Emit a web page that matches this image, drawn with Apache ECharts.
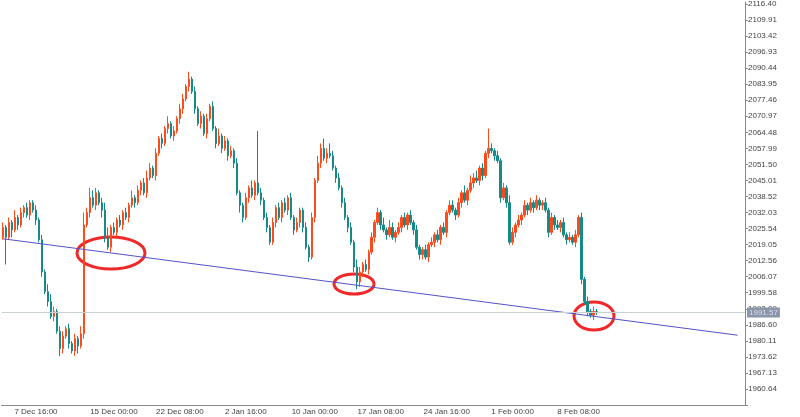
<!DOCTYPE html><html><head><meta charset="utf-8"><script src="https://cdn.jsdelivr.net/npm/echarts@6/dist/echarts.min.js"></script></head><body style="margin:0"><div id="c" style="width:800px;height:417px"></div><script>
const closes=[2026,2022,2028,2025,2030,2027,2032,2034,2031,2036,
2033,2029,2021,2008,2000,1996,1990,1992,1984,1977,
1982,1985,1979,1976,1981,1978,1983,2027,2032,2038,
2035,2040,2036,2033,2022,2018,2026,2024,2029,2027,
2032,2030,2035,2038,2036,2041,2044,2040,2046,2050,
2047,2056,2062,2060,2066,2068,2063,2065,2070,2074,
2078,2083,2086,2081,2074,2068,2071,2064,2070,2075,
2066,2060,2063,2058,2061,2055,2057,2052,2040,2035,
2030,2038,2042,2039,2044,2040,2037,2030,2026,2020,
2028,2034,2030,2036,2033,2038,2030,2025,2028,2033,
2026,2018,2014,2030,2045,2052,2058,2054,2056,2055,
2050,2046,2042,2036,2030,2026,2020,2010,2004,2008,
2011,2009,2016,2022,2028,2032,2027,2025,2023,2026,
2022,2024,2026,2030,2027,2031,2028,2025,2018,2015,
2017,2014,2019,2020,2023,2021,2026,2024,2032,2035,
2033,2031,2036,2040,2037,2041,2044,2046,2045,2050,
2047,2056,2058,2057,2055,2053,2038,2042,2036,2020,
2024,2027,2029,2031,2035,2033,2036,2034,2037,2035,
2036,2033,2024,2030,2027,2026,2028,2023,2021,2022,
2020,2023,2030,2005,1996,1992,1990.5,1992,1991.6];
const firstOpen=2022;
const upperWicks="2121312121"+"1212133212"+"2121213524"+"3212341212"+"1213121232"+"1212131212"+"2131212121"+"2131212121"+"12131l2121"+"2121212121"+"1212132424"+"2121212132"+"1212121313"+"2121212121"+"1212121212"+"2121313231"+"2182121213"+"2121212121"+"1212121212"+"121212121";
const lowerWicks="1b13121212"+"1212121213"+"2121231212"+"1213212121"+"2121212121"+"1212121212"+"2121212121"+"1212121213"+"2121212121"+"1212121212"+"2121212121"+"1212121232"+"2121212121"+"1212121212"+"2121212121"+"1212121212"+"2121212121"+"1212121212"+"2121212121"+"121212121";
const tickIdx=[11,37,59,81,104,126,148,170,192];
const tickText=["7 Dec 16:00","15 Dec 00:00","22 Dec 08:00","2 Jan 16:00","10 Jan 00:00","17 Jan 08:00","24 Jan 16:00","1 Feb 00:00","8 Feb 08:00"];
const trendStart=2021.4, trendEnd=1982.4, trendEndIdx=245;
const lastPrice=1991.57;
const nCats=248;

const cats=[];for(let i=0;i<nCats;i++){const k=tickIdx.indexOf(i);cats.push(k>=0?tickText[k]:'');}
const ohlc=closes.map((c,i)=>{const o=i?closes[i-1]:firstOpen;const u=parseInt(upperWicks[i]||'1',36),l=parseInt(lowerWicks[i]||'1',36);return [o,c,Math.min(o,c)-l,Math.max(o,c)+u];});
const ch=echarts.init(document.getElementById('c'));
ch.setOption({animation:false,backgroundColor:'#fff',
grid:{left:0,right:55,top:0,bottom:12},
xAxis:{type:'category',data:cats,boundaryGap:true,axisLine:{lineStyle:{color:'#888'}},axisTick:{show:false},
 axisLabel:{interval:0,fontSize:8,color:'#444',margin:3,formatter:v=>v},splitLine:{show:false}},
yAxis:{type:'value',position:'right',min:1954.15,max:2117.2,interval:6.49,scale:true,
 axisLine:{show:true,lineStyle:{color:'#888'}},axisTick:{show:true,length:3,lineStyle:{color:'#888'}},splitLine:{show:false},
 axisLabel:{fontSize:8,color:'#444',margin:3,formatter:v=>v<1958?'':v.toFixed(2)}},
series:[{type:'candlestick',data:ohlc,barWidth:2,
 itemStyle:{color:'#ff4a1c',color0:'#168a88',borderColor:'#ff4a1c',borderColor0:'#168a88',borderWidth:1},
 markLine:{silent:true,symbol:'none',data:[{yAxis:lastPrice}],lineStyle:{color:'#c8d0d4',type:'solid',width:1},
  label:{position:'end',formatter:lastPrice.toFixed(2),backgroundColor:'#8a96a8',color:'#dde',fontSize:8,padding:[1,2],distance:2}}},
 {type:'line',data:[[0,trendStart],[trendEndIdx,trendEnd]],symbol:'none',lineStyle:{color:'#5552c8',width:1}}],
graphic:[
 {type:'ellipse',shape:{cx:111,cy:253,rx:34,ry:16},style:{fill:'none',stroke:'#f0282a',lineWidth:3}},
 {type:'ellipse',shape:{cx:354,cy:284,rx:20,ry:10},style:{fill:'none',stroke:'#f0282a',lineWidth:3}},
 {type:'ellipse',shape:{cx:594,cy:316,rx:20,ry:14},style:{fill:'none',stroke:'#f0282a',lineWidth:3}}]
});
</script></body></html>
